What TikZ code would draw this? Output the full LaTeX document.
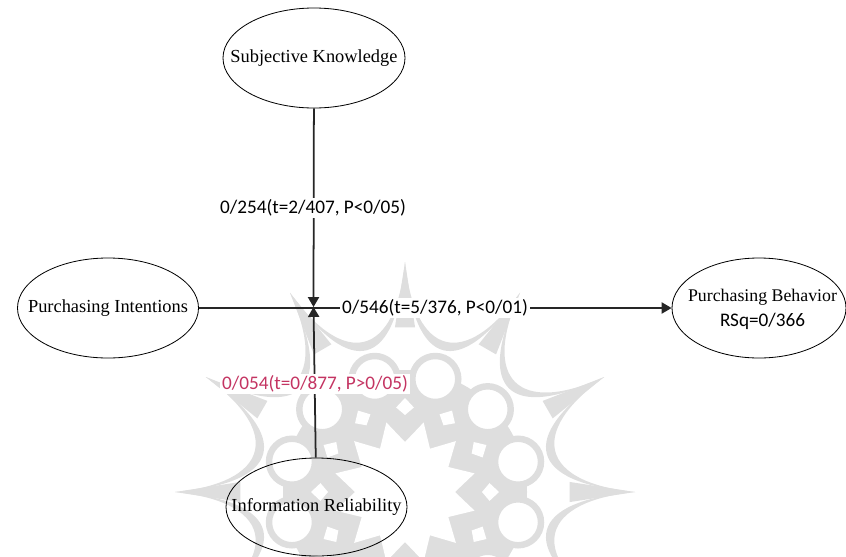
\documentclass[tikz,border=0pt]{standalone}
\usepackage{fontspec}
\usepackage{tikz}
\usetikzlibrary{arrows.meta,shapes.geometric}
\setmainfont{Liberation Serif}
\newfontfamily\labelfont{Carlito}
\definecolor{markgray}{gray}{0.87}
\definecolor{weakred}{RGB}{196,52,98}
\definecolor{linkgray}{gray}{0.15}
\tikzset{
  construct/.style={draw,ellipse,line width=0.7pt,inner sep=0pt,font=\fontsize{15.7}{19}\selectfont},
  pathlabel/.style={fill=white,inner sep=1.5pt,font=\labelfont\fontsize{16.4}{19}\selectfont},
  link/.style={line width=1.5pt,linkgray,-{Triangle[length=8.5pt,width=9.5pt]}},
}
\begin{document}
\begin{tikzpicture}[x=0.03cm,y=-0.03cm]
    \clip (0,0) rectangle (846,556);
    % watermark
    \begin{scope}[shift={(405,492)}]
    \fill [markgray] (0,0) circle (122);
    \foreach \a in {0,30,...,330} {
      \fill [markgray] (\a:230) .. controls (\a+4:124) and (\a+26:124) .. (\a+30:230)
        .. controls (\a+26:136) and (\a+4:136) .. cycle;
      \fill [markgray] (\a:230) -- (\a+3.5:165) -- (\a-3.5:165) -- cycle;
    }
    \foreach \a in {0,30,...,330} {
      \draw [markgray,fill=white,line width=5.5pt] (\a+15:117) circle (23);
      \fill [white] (\a:77) -- (\a+6:85) -- (\a:94) -- (\a-6:85) -- cycle;
    }
    \fill [white] (0:50) \foreach \a in {15,30,...,345} {
      -- (\a:{mod(\a,30)==0 ? 50 : 72})
    } -- cycle;
    \end{scope}
    % constructs
    \node [construct,minimum width=5.46cm,minimum height=3cm] (knowledge) at (314,58) {\makebox[0pt]{Subjective Knowledge}};
    \node [construct,minimum width=5.43cm,minimum height=3cm] (intentions) at (108,308) {\makebox[0pt]{Purchasing Intentions}};
    \node [construct,minimum width=5.22cm,minimum height=3cm] (behavior) at (759,308) {\makebox[0pt]{\hspace{6pt}\raisebox{-5pt}[0pt][0pt]{\fontsize{15.2}{19}\selectfont\begin{tabular}{@{}c@{}}Purchasing Behavior\\[2pt]{\labelfont\fontsize{16.4}{19}\selectfont RSq=0/366}\end{tabular}}}};
    \node [construct,minimum width=5.43cm,minimum height=2.94cm] (reliability) at (316.5,507) {\makebox[0pt]{Information Reliability}};
    \coordinate (joint) at (313.5,307);
    % paths
    \draw [link] (knowledge) -- (joint);
    \draw [link] (reliability) -- (joint);
    \draw [link] (intentions) -- (behavior);
    \node [pathlabel] (labelk) at (313,208) {0/254(t=2/407, P<0/05)};
    \node [pathlabel] (labeli) at (435,308) {0/546(t=5/376, P<0/01)};
    \node [pathlabel,text=weakred] (labelr) at (315,384) {0/054(t=0/877, P>0/05)};
\end{tikzpicture}
\end{document}
